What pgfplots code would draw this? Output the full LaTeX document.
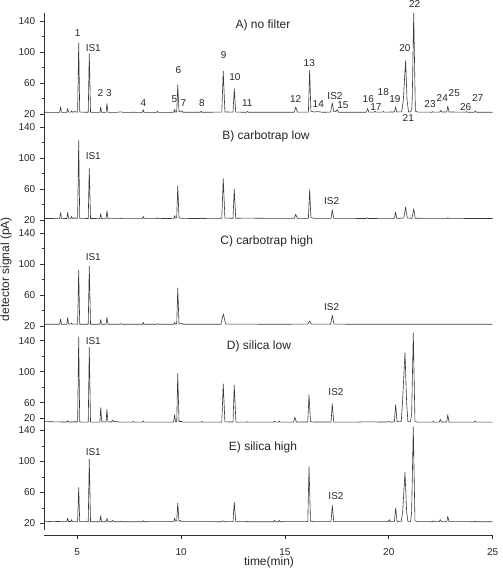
\documentclass[border=0pt]{standalone}
\usepackage{fontspec}
\setmainfont{Liberation Sans}
\usepackage{pgfplots}
\pgfplotsset{compat=1.18}
\definecolor{tracec}{HTML}{3A3A3A}
\pgfplotsset{
 panel/.style={scale only axis, x=15.5775pt, y=0.58125pt, xmin=3.4, xmax=25,
   axis y line*=left, axis x line=none, tick align=outside,
   major tick length=3pt, minor tick length=1.6pt,
   ytick={20,60,100,140}, minor ytick={40,80,120},
   /pgf/number format/assume math mode=true,
   yticklabel style={font=\fontsize{7.5}{8}\selectfont, text=black!85},
   axis line style={black!80, line width=0.5pt},
   tick style={black!80, line width=0.5pt},
   clip=false, anchor=north west},
 trace/.style={color=tracec, line width=0.45pt, mark=none, line join=round}
}
\begin{document}
\begin{tikzpicture}
% ---------------- A) no filter
\begin{axis}[panel, at={(33pt,-9.75pt)}, ymin=11.9, ymax=150.7]
\addplot[trace] coordinates {
(3.4,22.6) (4.15,22.5) (4.20,29.5) (4.24,22.5) (4.50,22.6) (4.54,27.4) (4.58,22.8) (4.70,22.8) (4.73,24.5) (4.76,23) (4.86,23) (4.89,24) (4.92,23) (5.02,22.8) (5.07,112) (5.12,22.8) (5.53,22.6) (5.58,98.3) (5.64,22.6) (6.09,22.5) (6.13,29.5) (6.17,22.5) (6.39,22.5) (6.43,33.8) (6.48,22.5) (6.9,22.5) (7.1,23.2) (7.2,22.5) (7.7,22.6) (8.14,22.5) (8.18,26) (8.22,22.5) (8.82,22.5) (8.86,24) (8.9,22.5) (9.65,22.6) (9.69,26.5) (9.72,23) (9.79,23) (9.84,58) (9.90,23.5) (9.98,23) (10.03,24.5) (10.08,22.7) (10.93,22.6) (10.97,23.8) (11.01,22.6) (11.96,22.8) (12.03,75.5) (12.11,23) (12.50,22.8) (12.56,53) (12.63,22.8) (13.15,22.6) (13.19,23.8) (13.24,22.6) (14.5,22.6) (15.45,22.7) (15.52,29.5) (15.6,22.8) (16.13,22.8) (16.19,76.8) (16.25,24) (16.4,23) (16.6,23.5) (16.8,22.6) (17.2,22.8) (17.28,34.7) (17.35,23.5) (17.45,23.5) (17.52,26) (17.58,22.7) (18.92,22.7) (18.98,27.5) (19.04,22.8) (19.30,22.8) (19.34,24) (19.38,22.8) (19.7,22.8) (19.74,23.8) (19.78,22.8) (20.27,23) (20.33,29.5) (20.38,23) (20.62,23.2) (20.70,38) (20.81,89.3) (20.88,38) (20.95,23.5) (21.0,22.8) (21.10,25) (21.13,40) (21.20,150.5) (21.28,24) (21.4,22.8) (22.07,22.7) (22.11,23.5) (22.15,22.7) (22.45,22.8) (22.5,25) (22.55,23) (22.79,23) (22.84,30.3) (22.9,23) (23.7,22.7) (23.75,23.5) (23.8,22.7) (24.12,22.7) (24.17,24.2) (24.22,22.7) (25,22.6)
};
\end{axis}
% ---------------- B) carbotrap low
\begin{axis}[panel, at={(33pt,-90.75pt)}, ymin=11.35, ymax=148.1]
\addplot[trace] coordinates {
(3.4,22.3) (4.15,22.2) (4.20,30) (4.24,22.2) (4.50,22.3) (4.54,30.3) (4.58,22.5) (4.70,22.5) (4.73,25) (4.76,22.6) (4.86,22.6) (4.89,23.5) (4.92,22.6) (5.02,22.5) (5.07,123) (5.12,22.5) (5.53,22.3) (5.58,87) (5.64,22.3) (6.09,22.2) (6.13,28.6) (6.17,22.2) (6.39,22.2) (6.43,32) (6.48,22.2) (7.05,22.2) (7.1,23) (7.15,22.2) (8.14,22.2) (8.18,25) (8.22,22.2) (8.82,22.2) (8.86,23.5) (8.9,22.2) (9.65,22.4) (9.69,26) (9.72,23) (9.79,23) (9.84,64.8) (9.90,23.2) (10.05,22.4) (10.93,22.3) (10.97,23.2) (11.01,22.3) (11.96,22.6) (12.03,73.8) (12.11,22.8) (12.50,22.6) (12.56,60) (12.63,22.6) (13.19,22.8) (14.5,22.4) (15.45,22.4) (15.52,27.7) (15.6,22.4) (16.13,22.5) (16.19,59.6) (16.25,23.5) (16.4,22.5) (17.22,22.4) (17.28,33.8) (17.35,22.5) (18.93,22.3) (18.98,23.4) (19.03,22.3) (20.27,22.5) (20.33,30.7) (20.38,22.5) (20.72,22.8) (20.81,37) (20.89,22.8) (21.12,22.6) (21.2,35) (21.27,22.6) (22.8,22.4) (22.84,23.4) (22.88,22.4) (25,22.3)
};
\end{axis}
% ---------------- C) carbotrap high
\begin{axis}[panel, at={(33pt,-170.025pt)}, ymin=10.6, ymax=148.5]
\addplot[trace] coordinates {
(3.4,22.7) (4.15,22.6) (4.20,29.4) (4.24,22.6) (4.50,22.7) (4.54,31.2) (4.58,22.8) (4.70,22.8) (4.73,24.3) (4.76,22.8) (5.02,22.7) (5.07,92.4) (5.12,22.7) (5.53,22.6) (5.58,97.5) (5.64,22.6) (6.09,22.6) (6.13,28.6) (6.17,22.6) (6.39,22.6) (6.43,31.6) (6.48,22.6) (7.05,22.6) (7.1,23.4) (7.15,22.6) (8.14,22.6) (8.18,25) (8.22,22.6) (8.82,22.6) (8.86,23.5) (8.9,22.6) (9.65,22.7) (9.69,25) (9.72,23) (9.79,23) (9.84,69.4) (9.90,23.3) (9.98,23) (10.03,24) (10.08,22.7) (11.92,22.7) (12.03,36) (12.15,22.9) (14.5,22.6) (16.1,22.8) (16.19,26.8) (16.28,22.8) (17.2,22.7) (17.28,34.2) (17.36,22.8) (18.5,22.6) (25,22.6)
};
\end{axis}
% ---------------- D) silica low
\begin{axis}[panel, at={(33pt,-249.975pt)}, ymin=28.1, ymax=149.5,
  ytick={40,60,100,140}, yticklabels={20,60,100,140}, minor ytick={80,120}]
\addplot[trace] coordinates {
(3.4,35.6) (4.0,35.2) (4.50,35.0) (4.54,36.8) (4.58,35.0) (4.85,35) (4.9,36) (4.95,35) (5.02,35) (5.07,144.4) (5.12,35) (5.53,34.9) (5.58,131.4) (5.64,34.9) (6.09,34.9) (6.13,53.5) (6.18,35.5) (6.39,35) (6.43,51.3) (6.48,35.2) (6.65,35) (6.7,37.5) (6.75,35.5) (6.85,36) (7.0,35) (7.65,34.8) (7.7,35.8) (7.75,34.8) (8.14,34.8) (8.18,36.5) (8.22,34.8) (9.64,35) (9.69,44.4) (9.73,35.5) (9.79,35.5) (9.84,97.7) (9.90,35.5) (10.0,35.8) (10.1,34.9) (10.96,34.8) (11.0,35.8) (11.04,34.8) (11.96,35) (12.03,84.2) (12.11,35.2) (12.50,35) (12.56,82.5) (12.64,35) (13.15,34.8) (13.19,35.6) (13.23,34.8) (14.45,34.8) (14.49,36.3) (14.53,34.8) (14.69,34.8) (14.73,36.3) (14.77,34.8) (15.42,35) (15.48,41.3) (15.55,35) (16.10,35) (16.16,70.4) (16.23,35.5) (16.4,35) (17.22,35) (17.28,58.7) (17.35,35) (18.4,34.8) (18.8,35.3) (19.9,35) (20.0,35.6) (20.1,35) (20.27,35.2) (20.33,57.4) (20.40,35.5) (20.6,35.5) (20.66,60) (20.78,124.4) (20.86,60) (20.92,35.5) (21.04,35.2) (21.1,45) (21.18,150) (21.26,36) (21.35,35) (22.1,34.8) (22.15,36.2) (22.2,34.8) (22.43,35) (22.48,38.5) (22.53,35) (22.79,35) (22.84,44.4) (22.90,35) (24.1,34.8) (24.15,36.4) (24.2,34.8) (25,34.8)
};
\end{axis}
% ---------------- E) silica high
\begin{axis}[panel, at={(33pt,-320.25pt)}, ymin=11.9, ymax=144.5]
\addplot[trace] coordinates {
(3.4,23.5) (3.5,22.8) (3.8,22.4) (4.1,22.6) (4.3,22.3) (4.50,22.4) (4.54,27) (4.58,22.6) (4.70,22.6) (4.73,25) (4.76,22.5) (5.02,22.4) (5.07,66.5) (5.12,22.4) (5.53,22.3) (5.58,103) (5.64,22.3) (6.09,22.3) (6.13,30) (6.17,22.3) (6.39,22.3) (6.43,26.5) (6.48,22.3) (6.65,22.3) (6.7,24) (6.75,22.3) (7.05,22.3) (7.1,23) (7.15,22.3) (8.14,22.3) (8.18,23.5) (8.22,22.3) (9.65,22.4) (9.69,27) (9.73,23) (9.79,23) (9.84,46.3) (9.90,23) (9.95,24) (10.0,22.4) (11.96,22.3) (12.03,23.5) (12.09,22.3) (12.50,22.4) (12.56,47.6) (12.63,22.4) (13.15,22.3) (13.19,23) (13.23,22.3) (14.45,22.3) (14.49,24) (14.53,22.3) (14.69,22.3) (14.73,24) (14.77,22.3) (16.10,22.4) (16.16,93.5) (16.23,23) (16.4,22.4) (17.22,22.4) (17.28,43.2) (17.35,22.4) (19.98,22.4) (20.03,25) (20.08,22.4) (20.27,22.5) (20.33,39.9) (20.40,22.6) (20.6,22.8) (20.67,35) (20.78,86.3) (20.86,35) (20.92,22.8) (21.05,22.6) (21.1,35) (21.18,144.5) (21.26,23.5) (21.35,22.4) (22.1,22.3) (22.15,23.5) (22.2,22.3) (22.43,22.4) (22.48,25) (22.53,22.4) (22.79,22.4) (22.84,29) (22.90,22.4) (24.1,22.3) (24.15,23) (24.2,22.3) (25,22.3)
};
\end{axis}
% ---------------- x axis
\begin{axis}[scale only axis, x=15.5775pt, y=1pt, xmin=3.4, xmax=25, ymin=0, ymax=1,
  axis x line*=bottom, axis y line=none, at={(33pt,-401.25pt)}, anchor=south west,
  xtick={5,10,15,20,25}, tick align=outside, major tick length=3pt,
  /pgf/number format/assume math mode=true,
  xticklabel style={font=\fontsize{7.5}{8}\selectfont, text=black!85, yshift=-3.5pt},
  axis line style={black!80, line width=0.5pt},
  tick style={black!80, line width=0.5pt}]
\end{axis}
% ---------------- texts
\begin{scope}[x=0.75pt, y=-0.75pt, every node/.style={text=black!85, inner sep=0pt}]
\begin{scope}[every node/.append style={font=\fontsize{7.5}{9}\selectfont}]
\node at (77.7,33.3) {1};
\node at (93.3,48.3) {IS1};
\node at (100.3,92.7) {2};
\node at (109,92.7) {3};
\node at (143.3,102.7) {4};
\node at (174.3,99.3) {5};
\node at (178.3,70) {6};
\node at (183.3,102.7) {7};
\node at (202,102.7) {8};
\node at (223.7,55) {9};
\node at (235,77.3) {10};
\node at (247.3,103.3) {11};
\node at (295.7,99.3) {12};
\node at (309.3,62.7) {13};
\node at (318.3,104.3) {14};
\node at (335,96) {IS2};
\node at (343,105.3) {15};
\node at (368.3,99.3) {16};
\node at (376,107.3) {17};
\node at (383.3,92.3) {18};
\node at (395,99.3) {19};
\node at (405,48.3) {20};
\node at (408.3,118.3) {21};
\node at (414.7,4) {22};
\node at (430,104.3) {23};
\node at (442.3,98.3) {24};
\node at (454.3,92.7) {25};
\node at (465.7,106.7) {26};
\node at (477.7,98.3) {27};
\node at (93.3,156) {IS1};
\node at (93.3,257.3) {IS1};
\node at (93.3,340.7) {IS1};
\node at (93.3,451.7) {IS1};
\node at (331.7,201.3) {IS2};
\node at (331.7,307.3) {IS2};
\node at (336,392.3) {IS2};
\node at (336,495.7) {IS2};
\end{scope}
\begin{scope}[every node/.append style={font=\fontsize{9}{10}\selectfont}]
\node at (263,25) {A) no filter};
\node at (266,136) {B) carbotrap low};
\node at (266.7,241) {C) carbotrap high};
\node at (259,346) {D) silica low};
\node at (263,447) {E) silica high};
\node at (269,562) {time(min)};
\node[rotate=90] at (6,269) {detector signal (pA)};
\end{scope}
\pgfresetboundingbox
\path (0,0) rectangle (503,569);
\end{scope}
\end{tikzpicture}
\end{document}
